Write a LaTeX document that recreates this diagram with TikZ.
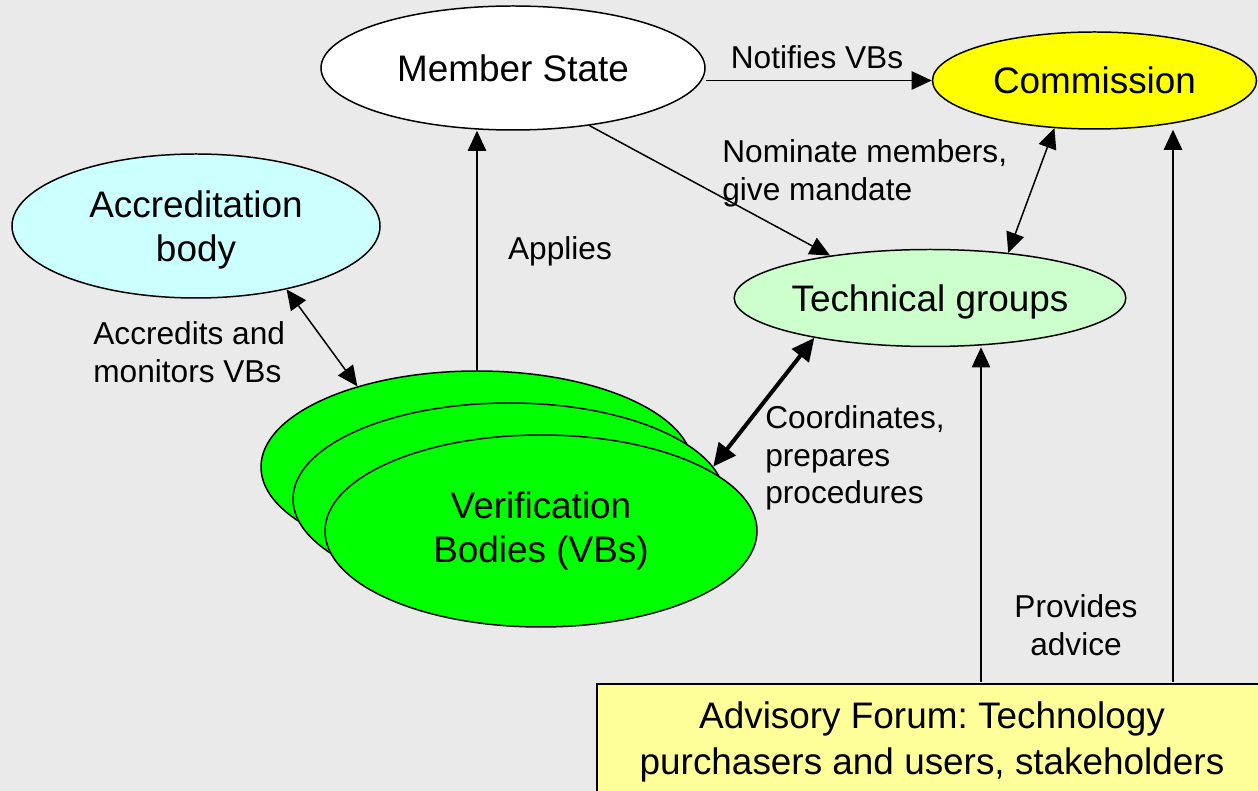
\documentclass[tikz,border=0pt]{standalone}
\usepackage{fontspec}
\setmainfont{Liberation Sans}
\usetikzlibrary{shapes.geometric}
\usetikzlibrary{arrows.meta}

\definecolor{bg}{HTML}{EAEAEA}
\definecolor{comyellow}{HTML}{FFFF00}
\definecolor{acccyan}{HTML}{CCFFFF}
\definecolor{tggreen}{HTML}{CCFFCC}
\definecolor{vbgreen}{HTML}{00FF00}
\definecolor{afyellow}{HTML}{FFFF99}
\newcommand{\ovalfont}{\fontsize{21}{25}\selectfont}
\newcommand{\labelfont}{\fontsize{18}{21.5}\selectfont}
\frenchspacing

\begin{document}
\begin{tikzpicture}[x=0.2mm,y=-0.2mm]
            \tikzset{line/.style={line width=0.85pt}};
            \tikzset{arr/.style={line, -{Triangle[length=11.5pt,width=10.5pt]}}};
            \tikzset{both/.style={line, {Triangle[length=11.5pt,width=10.5pt]}-{Triangle[length=11.5pt,width=10.5pt]}}};
            \tikzset{oval/.style={ellipse, draw, line, inner sep=0pt, align=center, font=\ovalfont}};
            \tikzset{lbl/.style={inner sep=0pt, font=\labelfont}};

            \useasboundingbox (0,0) rectangle (1258,791);
            \clip (0,0) rectangle (1258,791);
            \fill[bg] (0,0) rectangle (1258,791);

            \node[oval, fill=white, minimum width=76.8mm, minimum height=24.8mm] (ms) at (513,68) {Member State};
            \node[oval, fill=comyellow, minimum width=64.8mm, minimum height=19.4mm] (com) at (1094.5,80.5) {Commission};
            \node[oval, fill=acccyan, minimum width=73.6mm, minimum height=28.8mm, text depth=0pt] (acc) at (196,226) {Accreditation\\body};
            \node[oval, fill=tggreen, minimum width=77.2mm, minimum height=19.4mm, text depth=0pt] (tg) at (930,298) {Technical groups};

            \node[oval, fill=vbgreen, minimum width=86.4mm, minimum height=38.4mm] (vb1) at (477,467) {};
            \node[oval, fill=vbgreen, minimum width=86.4mm, minimum height=38.4mm] (vb2) at (509,499) {};
            \node[oval, fill=vbgreen, minimum width=86.4mm, minimum height=38.4mm] (vb3) at (541,531) {Verification\\Bodies (VBs)};

            \node[draw, line, fill=afyellow, minimum width=134mm, minimum height=23.2mm, align=center, font=\fontsize{21}{25.8}\selectfont] (af) at (932,742) {Advisory Forum: Technology\\purchasers and users, stakeholders};

            \coordinate (f1) at (981,682);
            \coordinate (f2) at (1173,682);

            \draw[arr] (ms.east |- com.west) -- (com.west);
            \draw[arr] (ms.-37) -- (tg.157);
            \draw[both] (com.-130) -- (tg.30);
            \draw[arr] (vb1.north) -- (vb1.north |- ms.south);
            \draw[both] (acc.-35) -- (vb1.146);
            \draw[both, line width=2.3pt, {Triangle[length=13pt,width=12pt]}-{Triangle[length=13pt,width=12pt]}] (vb2.9) -- (tg.-161);
            \draw[arr] (f1) -- (f1 |- tg.south);
            \draw[arr] (f2) -- (f2 |- com.south);

            \node[lbl] (nv) at (817,57) {Notifies VBs};
            \node[lbl, anchor=west, align=left] (nm) at (722,173) {Nominate members,\\give mandate};
            \node[lbl] (ap) at (560,251) {Applies};
            \node[lbl, anchor=west, align=left] (am) at (93,352) {Accredits and\\monitors VBs};
            \node[lbl, anchor=west, align=left] (cp) at (765,458) {Coordinates,\\prepares\\procedures};
            \node[lbl, align=center] (pa) at (1076,625) {Provides\\advice};
        \end{tikzpicture}
\end{document}
